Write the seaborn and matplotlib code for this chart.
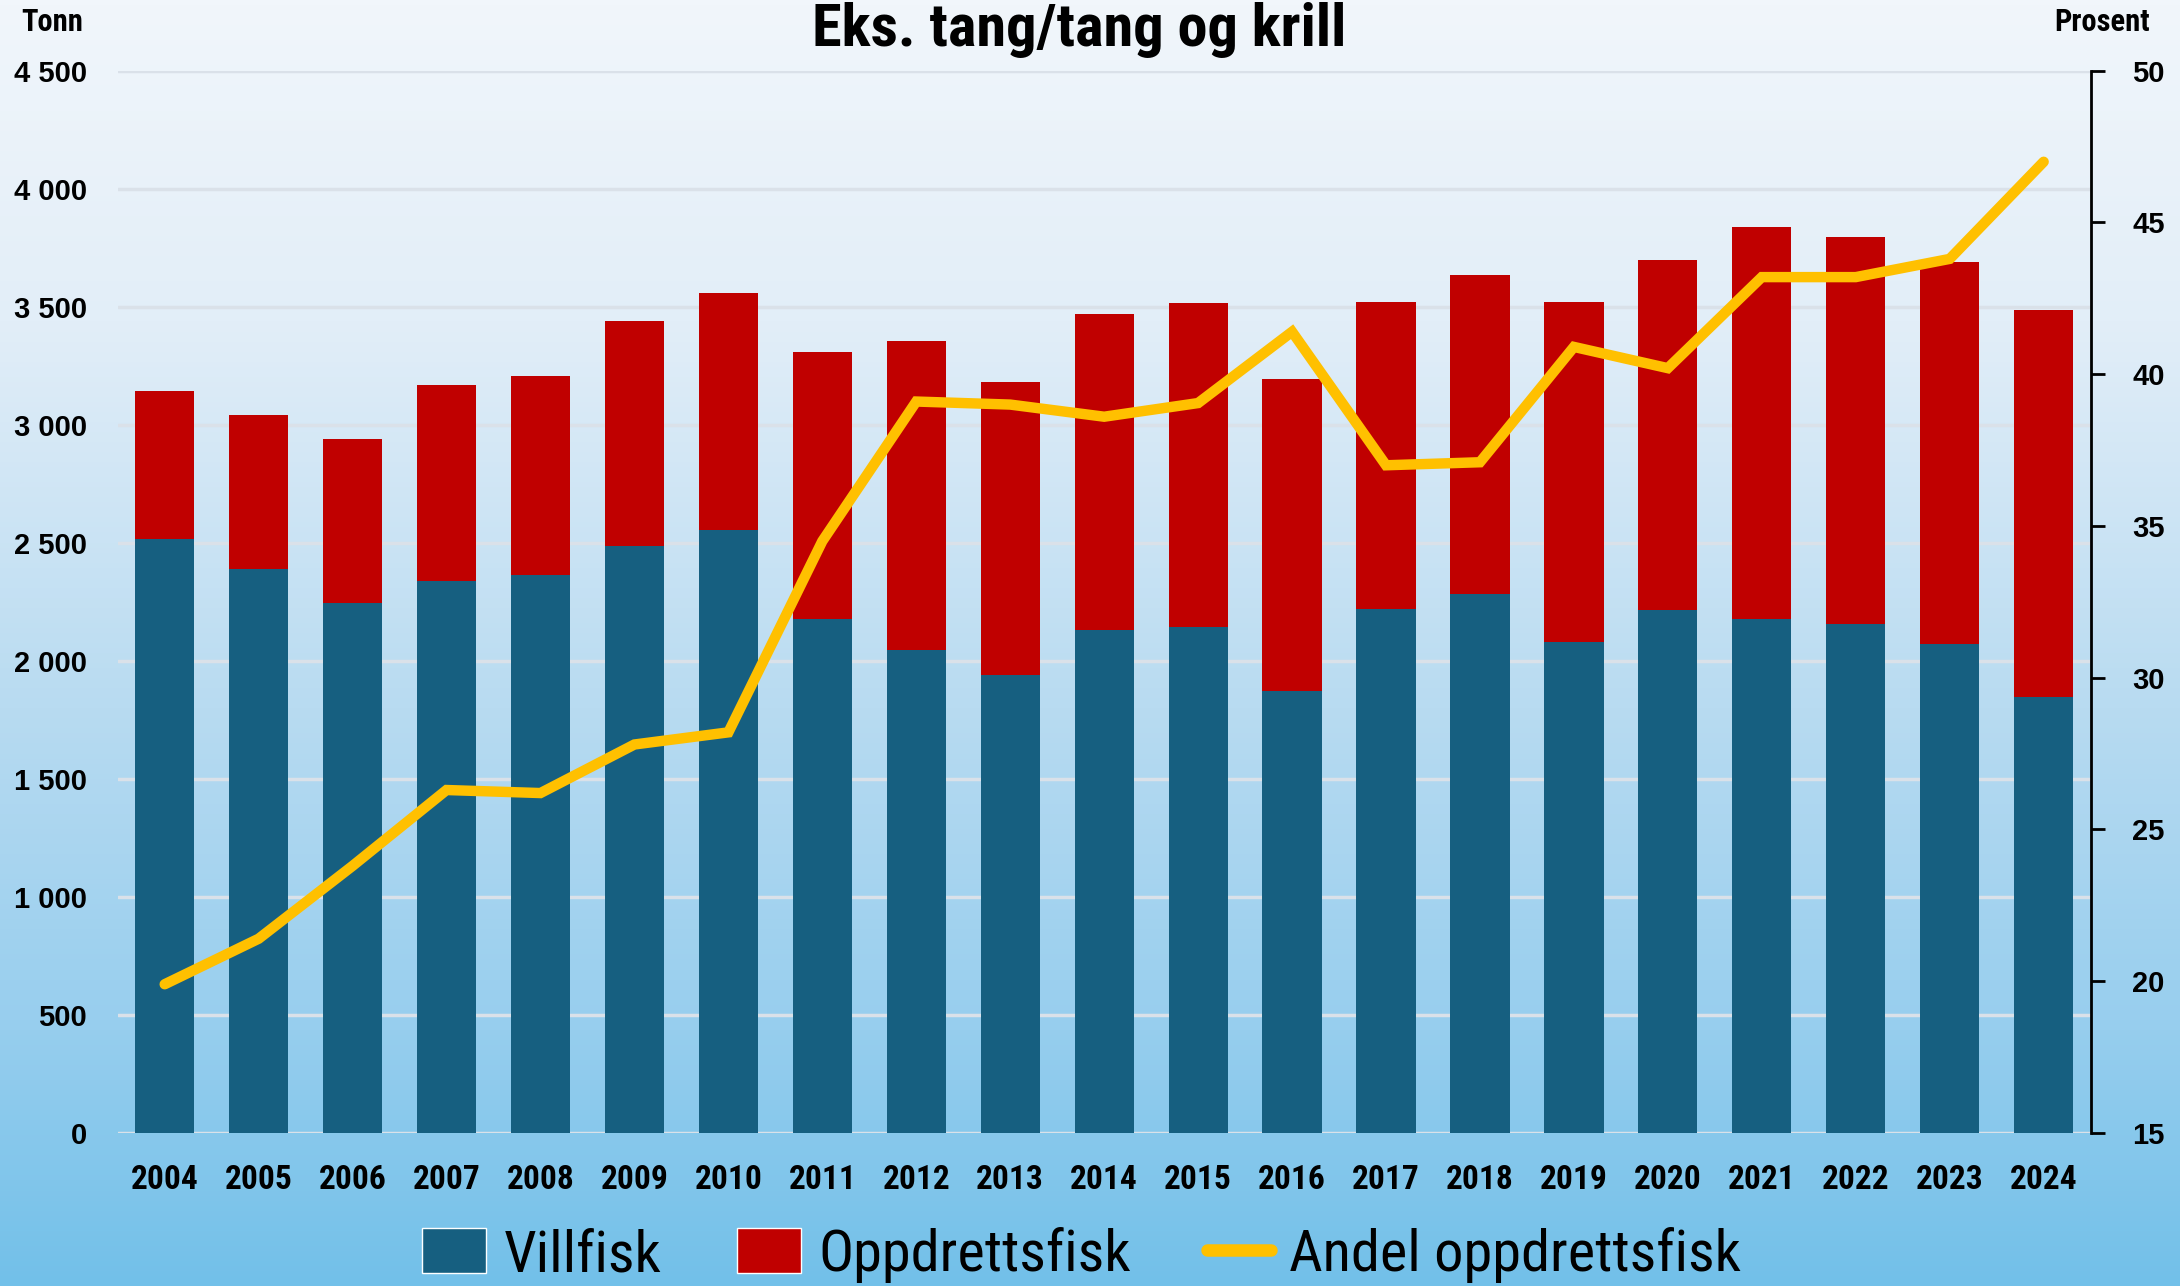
import matplotlib
matplotlib.use('Agg')
import matplotlib.pyplot as plt
from matplotlib import font_manager
from matplotlib.colors import LinearSegmentedColormap
from matplotlib.patches import Patch
from matplotlib.lines import Line2D
import seaborn as sns
import pandas as pd
import numpy as np

# ============================
# Data
# ============================

years = ['2004', '2005', '2006', '2007', '2008', '2009', '2010', '2011', '2012', '2013',
         '2014', '2015', '2016', '2017', '2018', '2019', '2020', '2021', '2022', '2023', '2024']

# total = villfisk + oppdrettsfisk (tonn)
total = [3145, 3040, 2940, 3170, 3205, 3440, 3560, 3310, 3357, 3182,
         3470, 3516, 3192, 3522, 3634, 3522, 3700, 3840, 3795, 3688, 3487]
villfisk = [2515, 2391, 2244, 2338, 2362, 2486, 2556, 2179, 2044, 1938,
            2132, 2144, 1873, 2221, 2285, 2079, 2215, 2179, 2156, 2073, 1849]
oppdrett = [t - v for t, v in zip(total, villfisk)]

# andel oppdrettsfisk (prosent)
andel = [19.9, 21.4, 23.8, 26.3, 26.2, 27.8, 28.2, 34.5, 39.1, 39.0,
         38.6, 39.05, 41.4, 37.0, 37.1, 40.9, 40.2, 43.2, 43.2, 43.8, 47.0]

left_ticks = [0, 500, 1000, 1500, 2000, 2500, 3000, 3500, 4000, 4500]
left_labels = ['0', '500', '1 000', '1 500', '2 000', '2 500', '3 000', '3 500', '4 000', '4 500']
right_ticks = [15, 20, 25, 30, 35, 40, 45, 50]

df = pd.DataFrame({'year': years, 'total': total, 'villfisk': villfisk,
                   'oppdrett': oppdrett, 'andel': andel})
df['pos'] = np.arange(len(df))

# ============================
# Fonts
# ============================

names = {f.name for f in font_manager.fontManager.ttflist}
narrow = next((n for n in ['Roboto Condensed', 'Liberation Sans Narrow', 'Archivo Narrow']
               if n in names), 'DejaVu Sans')
arial = 'Liberation Sans' if 'Liberation Sans' in names else 'DejaVu Sans'
NARROW = [narrow, 'DejaVu Sans']

sns.set_theme(style='white')
plt.rcParams['font.family'] = [arial, 'DejaVu Sans']
plt.rcParams['text.color'] = 'black'
plt.rcParams['xtick.color'] = 'black'
plt.rcParams['ytick.color'] = 'black'

BLUE = '#165f80'
RED = '#c00000'
YELLOW = '#ffc000'

# ============================
# Plotting
# ============================

fig = plt.figure(figsize=(21.8, 12.86), dpi=100)

# background gradient
bg = fig.add_axes([0, 0, 1, 1], zorder=-10)
cmap = LinearSegmentedColormap.from_list(
    'bg', [(0.0, '#f1f6fb'), (0.25, '#e2eef8'), (0.55, '#b8dbf1'),
           (0.8, '#97ceee'), (1.0, '#72c0e9')])
grad = np.linspace(0, 1, 256).reshape(-1, 1)
bg.imshow(grad, aspect='auto', cmap=cmap, extent=[0, 1, 0, 1])
bg.axis('off')

ax = fig.add_axes([0.054, 0.119, 0.905, 0.826])
ax.patch.set_alpha(0)

sns.barplot(data=df, x='year', y='total', color=RED, saturation=1,
            width=0.63, linewidth=0, ax=ax, zorder=2)
sns.barplot(data=df, x='year', y='villfisk', color=BLUE, saturation=1,
            width=0.63, linewidth=0, ax=ax, zorder=3)

ax.set_xlim(-0.5, 20.5)
ax.set_ylim(0, 4500)
ax.set_yticks(left_ticks)
ax.set_yticklabels(left_labels)
ax.set_axisbelow(True)
ax.yaxis.grid(True, color='#dae1e9', linewidth=2.5, zorder=0)
ax.xaxis.grid(False)
for s in ax.spines.values():
    s.set_visible(False)
ax.tick_params(axis='y', length=0, pad=22, labelsize=21)
ax.tick_params(axis='x', length=0, pad=22)
for lab in ax.get_yticklabels():
    lab.set_fontweight('bold')
for lab in ax.get_xticklabels():
    lab.set_fontfamily(NARROW)
    lab.set_fontweight('bold')
    lab.set_fontsize(24)
ax.set_xlabel('')
ax.set_ylabel('')

ax2 = ax.twinx()
ax2.patch.set_alpha(0)
sns.lineplot(data=df, x='pos', y='andel', color=YELLOW, linewidth=7.5,
             ax=ax2, solid_capstyle='round', solid_joinstyle='miter')
ax2.set_ylim(15, 50)
ax2.set_yticks(right_ticks)
ax2.set_xlim(-0.5, 20.5)
ax2.set_xlabel('')
ax2.set_ylabel('')
for k, s in ax2.spines.items():
    s.set_visible(k == 'right')
ax2.spines['right'].set_color('black')
ax2.spines['right'].set_linewidth(2)
ax2.tick_params(axis='y', direction='out', length=10, width=2, color='black',
                pad=20, labelsize=21)
for lab in ax2.get_yticklabels():
    lab.set_fontweight('bold')
ax2.grid(False)

# titles and axis captions
fig.text(0.495, 1 - 46 / 1286, 'Eks. tang/tang og krill', ha='center', va='baseline',
         fontsize=43.5, fontweight='bold', family=NARROW)
fig.text(21 / 2180, 1 - 31 / 1286, 'Tonn', ha='left', va='baseline',
         fontsize=22, fontweight='bold', family=NARROW)
fig.text(2150 / 2180, 1 - 31 / 1286, 'Prosent', ha='right', va='baseline',
         fontsize=22, fontweight='bold', family=NARROW)

handles = [Patch(facecolor=BLUE, label='Villfisk'),
           Patch(facecolor=RED, label='Oppdrettsfisk'),
           Line2D([0], [0], color=YELLOW, linewidth=9, label='Andel oppdrettsfisk')]
fig.legend(handles=handles, loc='center', bbox_to_anchor=(0.496, 31 / 1286), ncol=3,
           frameon=False, prop={'family': NARROW, 'size': 42},
           handlelength=1.1, handleheight=0.8, handletextpad=0.3, columnspacing=1.3,
           borderpad=0.1)

fig.savefig('out.png', dpi=100)
